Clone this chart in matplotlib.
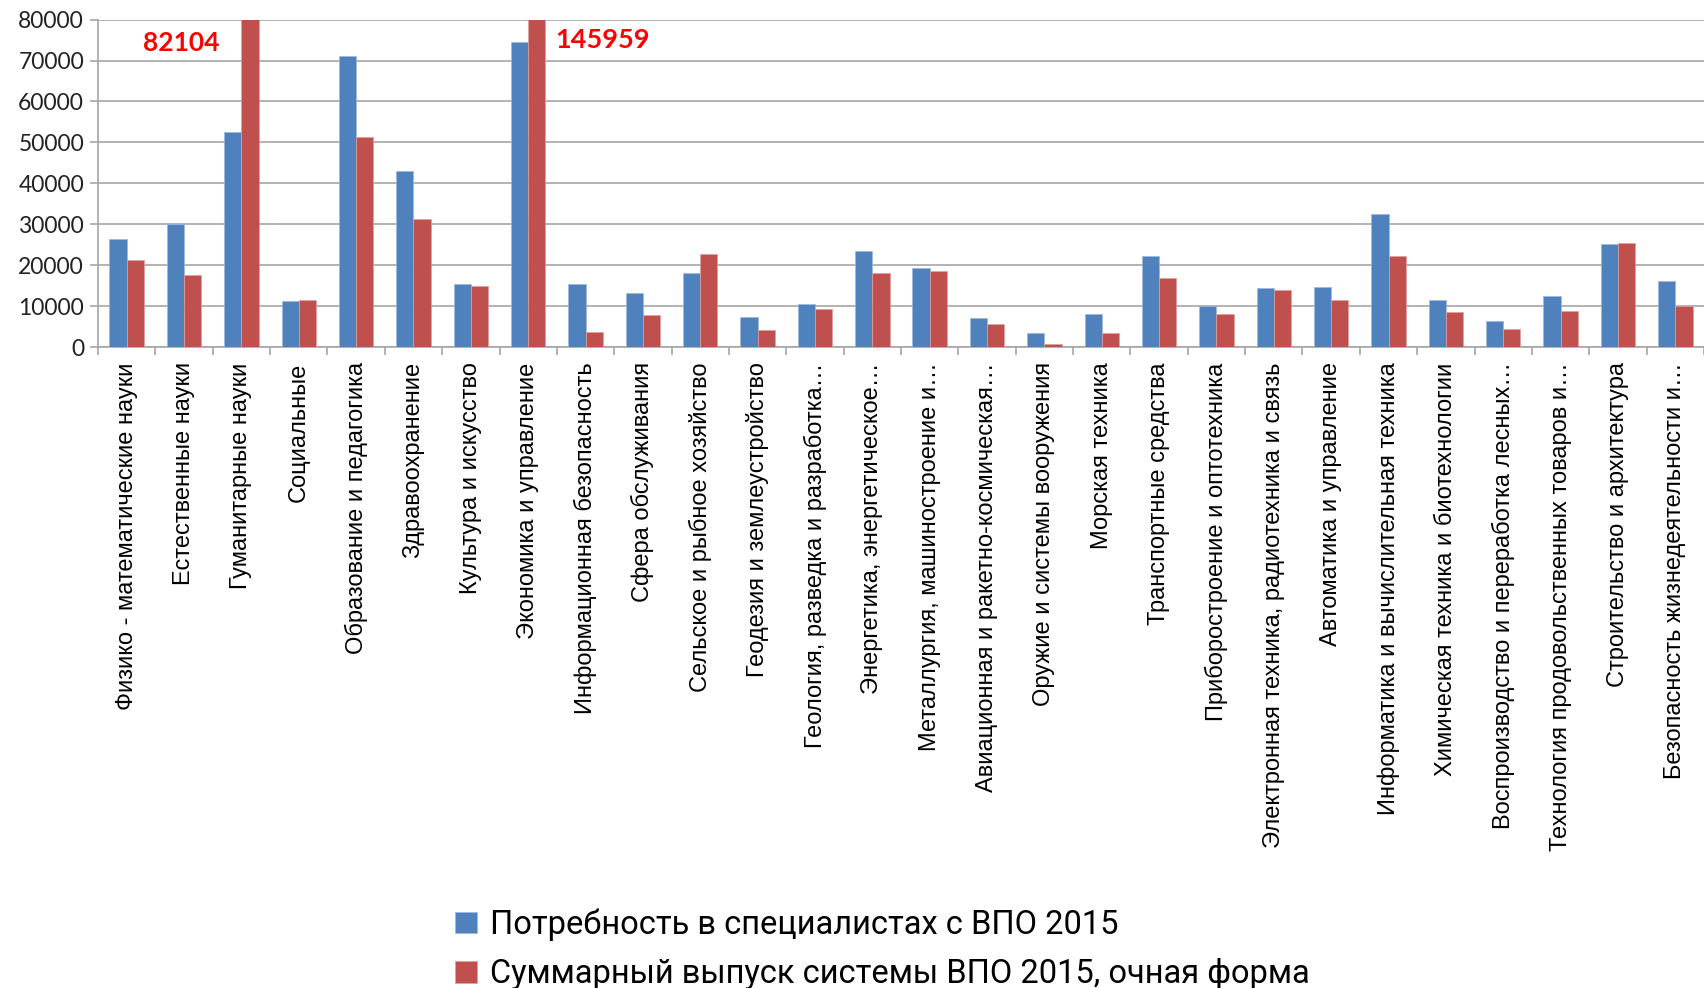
import numpy as np
import matplotlib
matplotlib.use("Agg")
import matplotlib.pyplot as plt

categories = [
    "Физико - математические науки", "Естественные науки", "Гуманитарные науки",
    "Социальные", "Образование и педагогика", "Здравоохранение",
    "Культура и искусство", "Экономика и управление", "Информационная безопасность",
    "Сфера обслуживания", "Сельское и рыбное хозяйство", "Геодезия и землеустройство",
    "Геология, разведка и разработка…", "Энергетика, энергетическое…",
    "Металлургия, машиностроение и…", "Авиационная и ракетно-космическая…",
    "Оружие и системы вооружения", "Морская техника", "Транспортные средства",
    "Приборостроение и оптотехника", "Электронная техника, радиотехника и связь",
    "Автоматика и управление", "Информатика и вычислительная техника",
    "Химическая техника и биотехнологии", "Воспроизводство и переработка лесных…",
    "Технология продовольственных товаров и…", "Строительство и архитектура",
    "Безопасность жизнедеятельности и…",
]
demand = [26400, 30000, 52600, 11300, 71100, 43000, 15500, 74500, 15500, 13100,
          18200, 7400, 10400, 23400, 19400, 7100, 3500, 8000, 22200, 9900,
          14300, 14600, 32500, 11600, 6400, 12500, 25200, 16100]
output = [21200, 17700, 82104, 11600, 51400, 31200, 15000, 145959, 3700, 7700,
          22800, 4100, 9200, 18200, 18600, 5600, 800, 3500, 16800, 8000,
          14000, 11600, 22200, 8600, 4300, 8900, 25500, 9900]
series_names = ["Потребность в специалистах с ВПО 2015",
                "Суммарный выпуск системы ВПО 2015, очная форма"]

blue = "#4F81BD"
red = "#C0504D"
grid_c = "#a6a6a6"

fig = plt.figure(figsize=(17.04, 9.88), dpi=100)
ax = fig.add_axes([98/1704, 1-347/988, 1-98/1704, (347-19.6)/988])

x = np.arange(len(categories))
w = 0.3
b1 = ax.bar(x - w/2, demand, w, color=blue, edgecolor="#9db8dc", linewidth=0.5, zorder=3)
b2 = ax.bar(x + w/2, output, w, color=red, edgecolor="#e0a09e", linewidth=0.5, zorder=3)

ax.set_ylim(0, 80000)
ax.set_xlim(-0.5, len(categories) - 0.5)
ax.set_yticks(np.arange(0, 80001, 10000))
ax.yaxis.grid(True, color=grid_c, linewidth=1.2, zorder=0)
ax.set_axisbelow(True)

for s in ["top", "right"]:
    ax.spines[s].set_visible(False)
for s in ["left", "bottom"]:
    ax.spines[s].set_color(grid_c)
    ax.spines[s].set_linewidth(1.2)

ax.set_xticks(x)
ax.set_xticklabels(categories, rotation=90, ha="center", va="top",
                   family="Liberation Sans", fontsize=17)
ax.set_xticks(np.arange(-0.5, len(categories)), minor=True)
ax.tick_params(axis="x", which="major", length=0, pad=11)
ax.tick_params(axis="x", which="minor", length=6, color=grid_c, width=1.2)
ax.tick_params(axis="y", length=6, color=grid_c, width=1.2, pad=4)
for lbl in ax.get_yticklabels():
    lbl.set_family("Lato")
    lbl.set_fontsize(16.5)
    lbl.set_color("#222222")

# clipped bars get their real value written next to them
ax.text(2 - 0.38, 74200, f"{output[2]}", ha="right", va="center", color="red",
        fontsize=19, fontweight="bold", family="Lato")
ax.text(7 + 0.47, 75000, f"{output[7]}", ha="left", va="center", color="red",
        fontsize=19.5, fontweight="bold", family="Lato")

fig.legend([b1, b2], series_names, loc="upper left",
           bbox_to_anchor=(426/1704, 1-879/988), frameon=False,
           prop={"family": "Roboto", "size": 23.5},
           handlelength=0.65, handleheight=0.65, handletextpad=0.4,
           labelspacing=0.53)

fig.savefig("out.png", dpi=100)
